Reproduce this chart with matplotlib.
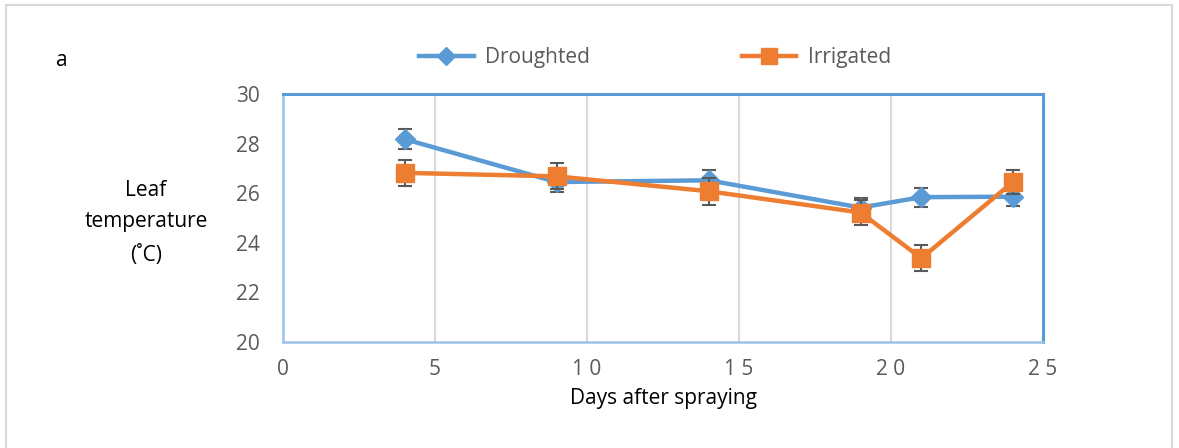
import matplotlib.pyplot as plt
from matplotlib.lines import Line2D
from matplotlib.patches import Rectangle

plt.rcParams['font.family'] = ['Open Sans', 'DejaVu Sans']

# leaf temperature measurements
days = [4, 9, 14, 19, 21, 24]
droughted = [28.18, 26.45, 26.52, 25.42, 25.84, 25.86]
droughted_err = [0.40, 0.40, 0.40, 0.40, 0.38, 0.38]
irrigated = [26.82, 26.68, 26.08, 25.22, 23.38, 26.44]
irrigated_err = [0.53, 0.52, 0.55, 0.52, 0.52, 0.48]

blue = '#5B9BD5'
orange = '#ED7D31'
grey = '#595959'
fs = 15

fig = plt.figure(figsize=(11.79, 4.48), dpi=100)
ax = fig.add_axes([283 / 1179, 1 - 342 / 448, 760 / 1179, 248 / 448])

ax.errorbar(days, droughted, yerr=droughted_err, color=blue, lw=3.2,
            marker='D', ms=10.5, mfc=blue, mec=blue,
            ecolor=grey, elinewidth=1.5, capsize=5, capthick=1.5, zorder=3)
ax.errorbar(days, irrigated, yerr=irrigated_err, color=orange, lw=3.2,
            marker='s', ms=12.5, mfc=orange, mec=orange,
            ecolor=grey, elinewidth=1.5, capsize=5, capthick=1.5, zorder=4)

ax.set_xlim(0, 25)
ax.set_ylim(20, 30)
ax.set_xticks([0, 5, 10, 15, 20, 25])
ax.set_xticklabels(['0', '5', '1 0', '1 5', '2 0', '2 5'])
ax.set_yticks([20, 22, 24, 26, 28, 30])
ax.tick_params(length=0, labelsize=fs, labelcolor=grey)
ax.tick_params(axis='x', pad=12)
ax.tick_params(axis='y', pad=17)
ax.xaxis.grid(True, color='#D9D9D9', lw=1.5)
ax.set_axisbelow(True)

for side in ['top', 'right']:
    ax.spines[side].set_color(blue)
    ax.spines[side].set_linewidth(2.2)
for side in ['left', 'bottom']:
    ax.spines[side].set_color('#9DC3E6')
    ax.spines[side].set_linewidth(1.8)

ax.set_xlabel('Days after spraying', fontsize=fs, color='black', labelpad=6)

fig.text(146 / 1179, 1 - 190 / 448, 'Leaf', ha='center', va='center', fontsize=fs)
fig.text(146 / 1179, 1 - 221 / 448, 'temperature', ha='center', va='center', fontsize=fs)
fig.text(146 / 1179, 1 - 255 / 448, '(˚C)', ha='center', va='center', fontsize=fs)
fig.text(62 / 1179, 1 - 61 / 448, 'a', ha='center', va='center', fontsize=fs)

handles = [
    Line2D([], [], color=blue, lw=3.2, marker='D', ms=9),
    Line2D([], [], color=orange, lw=3.2, marker='s', ms=11),
]
fig.legend(handles, ['Droughted', 'Irrigated'], loc='center',
           bbox_to_anchor=(655 / 1179, 1 - 58 / 448), ncol=2, frameon=False,
           fontsize=fs, labelcolor=grey, handlelength=2.6, handletextpad=0.55,
           columnspacing=7.3)

# light outer frame round the whole figure
fig.patches.append(Rectangle((6 / 1179, -0.05), 1166 / 1179, 1.05 - 5 / 448,
                             transform=fig.transFigure, fill=False,
                             edgecolor='#D9D9D9', lw=1.5))

fig.savefig('out.png', dpi=100)
